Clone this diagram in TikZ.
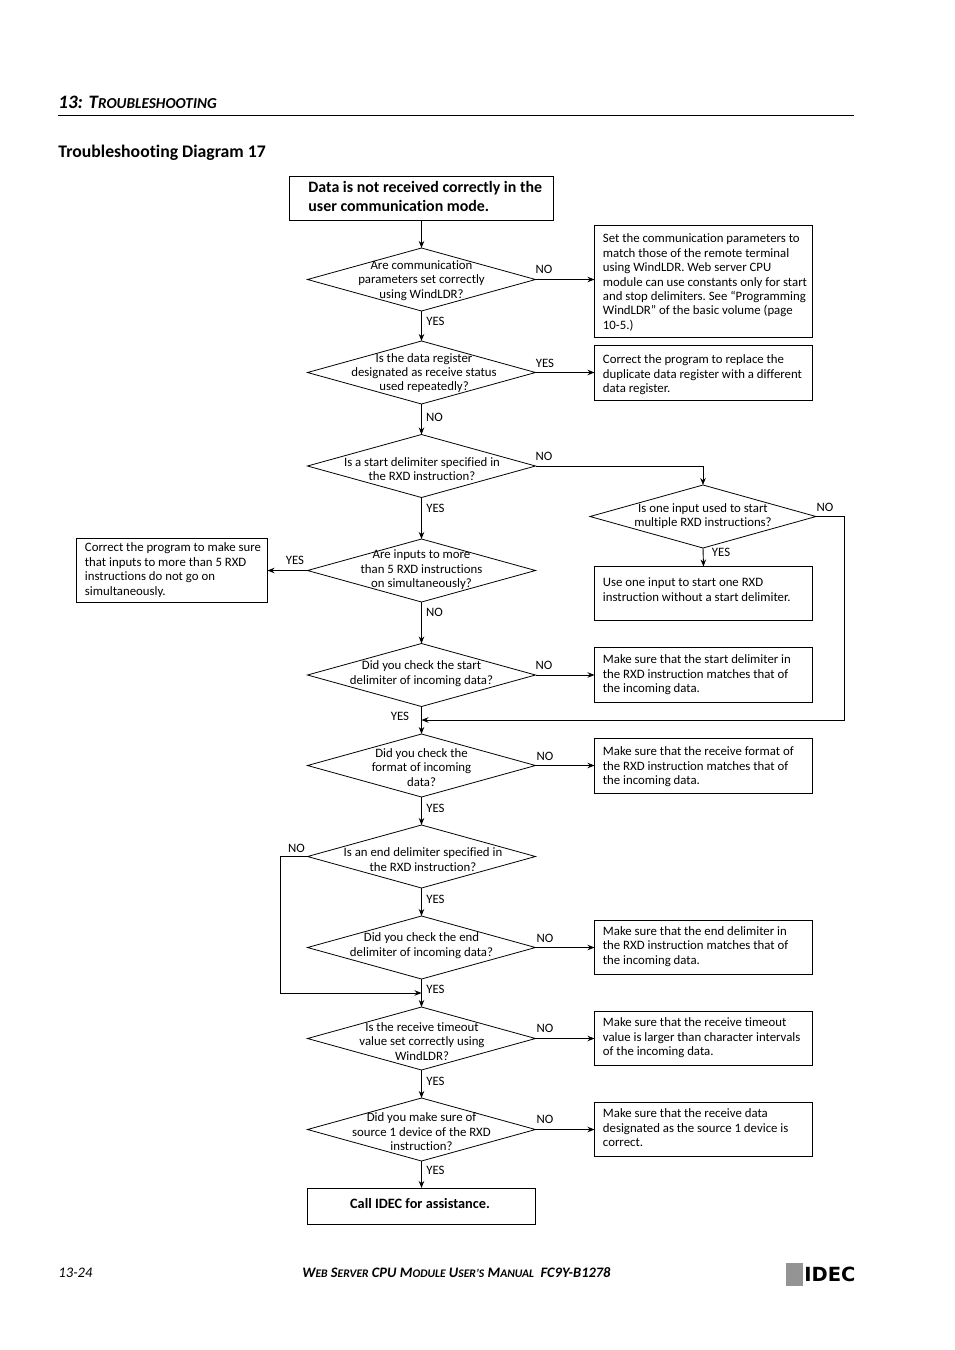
\documentclass[tikz,border=0pt]{standalone}
\usepackage{fontspec}
\setmainfont[Ligatures=NoCommon]{Carlito}
\newfontfamily\logofont{DejaVu Sans}
\usetikzlibrary{shapes.geometric,arrows.meta,calc}
\newcommand{\dia}[6]{% name, cx, cy, dx, dy, text
  \node[diabox] (#1) at (#2,#3) {};
  \node[diatext] (#1t) at (#2+#4,#3+#5) {#6};}
\newcommand{\rb}[7]{% name,x1,y1,x2,y2,text top offset,text
  \node[boxnode,minimum width=#4pt-#2pt,minimum height=#5pt-#3pt] (#1) at ({(#2+#4)/2},{(#3+#5)/2}) {};
  \node[boxtext] (#1t) at ($(#1.north west)+(8,#6)$) {#7};}
\begin{document}
\begin{tikzpicture}[x=1pt,y=-1pt,
  line width=0.9pt,
  diabox/.style={diamond,draw=black,inner sep=0pt,outer sep=0pt,minimum width=228pt,minimum height=63pt,line width=0.8pt},
  diatext/.style={align=center,inner sep=0pt,font=\fontsize{12.8}{14.4}\selectfont},
  boxnode/.style={rectangle,draw=black,inner sep=0pt,outer sep=0pt,line width=0.9pt},
  boxtext/.style={anchor=north west,align=left,inner sep=0pt,font=\fontsize{12.8}{14.4}\selectfont},
  lab/.style={inner sep=0pt,yshift=-0.7pt,font=\fontsize{12.8}{14}\selectfont},
  arr/.style={-{Stealth[length=7pt,width=5.5pt]},line width=0.9pt}]
\useasboundingbox (0,0) rectangle (954,1350);
% header
\node[anchor=base west,inner sep=0pt,font=\fontsize{19}{21}\selectfont\bfseries\itshape] (hd) at (58,108) {13: T{\fontsize{15.2}{17}\selectfont ROUBLESHOOTING}};
\coordinate (r1) at (58,115.5); \coordinate (r2) at (854,115.5);
\draw[line width=0.9pt] (r1) -- (r2);
\node[anchor=base west,inner sep=0pt,font=\fontsize{17.7}{20}\selectfont\bfseries] (ttl) at (58,157) {Troubleshooting Diagram 17};
% start box
\node[boxnode,minimum width=264pt,minimum height=44.5pt] (start) at (421.5,198.25) {};
\node[anchor=north west,align=left,inner sep=0pt,font=\fontsize{15.9}{19}\selectfont\bfseries] (startt) at (308,181) {Data is not received correctly in the\\user communication mode.};
% diamonds
\dia{d1}{421.5}{279.5}{0}{1}{Are communication\\parameters set correctly\\using WindLDR?}
\dia{d2}{421.5}{372.5}{2.5}{0.5}{Is the data register\\designated as receive status\\used repeatedly?}
\dia{d3}{421.5}{466}{0.5}{3.2}{Is a start delimiter specified in\\the RXD instruction?}
\dia{d4}{421.5}{570.5}{0}{-0.5}{Are inputs to more\\than 5 RXD instructions\\on simultaneously?}
\dia{d5}{421.5}{675}{0}{-1.2}{Did you check the start\\delimiter of incoming data?}
\dia{d6}{421.5}{765.5}{0}{2}{Did you check the\\format of incoming\\data?}
\dia{d7}{421.5}{856.5}{1.5}{3.2}{Is an end delimiter specified in\\the RXD instruction?}
\dia{d8}{421.5}{947.5}{0}{-2}{Did you check the end\\delimiter of incoming data?}
\dia{d9}{421.5}{1038.5}{0.5}{3}{Is the receive timeout\\value set correctly using\\WindLDR?}
\dia{d10}{421.5}{1129.5}{0}{2.2}{Did you make sure of\\source 1 device of the RXD\\instruction?}
\node[diabox,minimum width=226pt] (d11) at (703,516.5) {};
\node[diatext] (d11t) at (703,516) {Is one input used to start\\multiple RXD instructions?};
% boxes
\rb{b1}{594.5}{225.5}{812.5}{337.5}{8}{Set the communication parameters to\\match those of the remote terminal\\using WindLDR. Web server CPU\\module can use constants only for start\\and stop delimiters.\ See “Programming\\WindLDR” of the basic volume (page\\10-5.)}
\rb{b2}{594.5}{345.5}{812.5}{400.5}{9}{Correct the program to replace the\\duplicate data register with a different\\data register.}
\rb{b3}{594.5}{566.5}{812.5}{620.5}{11}{Use one input to start one RXD\\instruction without a start delimiter.}
\rb{b4}{76.5}{538.5}{267.5}{602.5}{4}{Correct the program to make sure\\that inputs to more than 5 RXD\\instructions do not go on\\simultaneously.}
\rb{b5}{594.5}{647.5}{812.5}{702.5}{7}{Make sure that the start delimiter in\\the RXD instruction matches that of\\the incoming data.}
\rb{b6}{594.5}{738.5}{812.5}{793.5}{8}{Make sure that the receive format of\\the RXD instruction matches that of\\the incoming data.}
\rb{b8}{594.5}{920.5}{812.5}{974.5}{5.5}{Make sure that the end delimiter in\\the RXD instruction matches that of\\the incoming data.}
\rb{b9}{594.5}{1011.5}{812.5}{1065.5}{6}{Make sure that the receive timeout\\value is larger than character intervals\\of the incoming data.}
\rb{b10}{594.5}{1102.5}{812.5}{1156.5}{6}{Make sure that the receive data\\designated as the source 1 device is\\correct.}
\node[boxnode,minimum width=228pt,minimum height=36pt] (end) at (421.5,1206) {};
\node[inner sep=0pt,font=\fontsize{14.3}{16}\selectfont\bfseries] (endt) at (420,1203.5) {Call IDEC for assistance.};
% connectors
\draw[arr] (start.south) -- (d1.north);
\draw[arr] (d1.south) -- (d2.north);
\draw[arr] (d2.south) -- (d3.north);
\draw[arr] (d3.south) -- (d4.north);
\draw[arr] (d4.south) -- (d5.north);
\draw[arr] (d5.south) -- (d6.north);
\draw[arr] (d6.south) -- (d7.north);
\draw[arr] (d7.south) -- (d8.north);
\draw[arr] (d8.south) -- (d9.north);
\draw[arr] (d9.south) -- (d10.north);
\draw[arr] (d10.south) -- (end.north);
\draw[arr] (d1.east) -- (d1.east -| b1.west);
\draw[arr] (d2.east) -- (d2.east -| b2.west);
\draw[arr] (d5.east) -- (d5.east -| b5.west);
\draw[arr] (d6.east) -- (d6.east -| b6.west);
\draw[arr] (d8.east) -- (d8.east -| b8.west);
\draw[arr] (d9.east) -- (d9.east -| b9.west);
\draw[arr] (d10.east) -- (d10.east -| b10.west);
\draw[arr] (d4.west) -- (d4.west -| b4.east);
\draw[arr] (d3.east) -| (d11.north);
\draw[arr] (d11.south) -- (b3.north);
\coordinate (j1) at (844.5,516.5);
\coordinate (j2) at (844.5,720);
\coordinate (j3) at (421.5,720);
\draw[arr] (d11.east) -- (j1) -- (j2) -- (j3);
\coordinate (k1) at (280.5,856.5);
\coordinate (k2) at (280.5,993);
\coordinate (k3) at (421.5,993);
\draw[arr] (d7.west) -- (k1) -- (k2) -- (k3);
% labels
\node[lab] (l1) at (544,268.7) {NO};
\node[lab] (l2) at (435.5,321) {YES};
\node[lab] (l3) at (545,362.7) {YES};
\node[lab] (l4) at (434.5,416.7) {NO};
\node[lab] (l5) at (544,455.7) {NO};
\node[lab] (l6) at (435.5,508) {YES};
\node[lab] (l7) at (825,506.7) {NO};
\node[lab] (l8) at (721,552) {YES};
\node[lab] (l9) at (295,560) {YES};
\node[lab] (l10) at (434.5,611.7) {NO};
\node[lab] (l11) at (544,664.7) {NO};
\node[lab] (l12) at (400,716) {YES};
\node[lab] (l13) at (545,755.7) {NO};
\node[lab] (l14) at (435.5,808) {YES};
\node[lab] (l15) at (296.5,848) {NO};
\node[lab] (l16) at (435.5,899) {YES};
\node[lab] (l17) at (545,937.7) {NO};
\node[lab] (l18) at (435.5,989) {YES};
\node[lab] (l19) at (545,1027.7) {NO};
\node[lab] (l20) at (435.5,1081) {YES};
\node[lab] (l21) at (545,1118.7) {NO};
\node[lab] (l22) at (435.5,1170) {YES};
% footer
\node[anchor=base west,inner sep=0pt,font=\fontsize{14.6}{16}\selectfont\itshape] (pg) at (58,1277) {13-24};
\node[anchor=base west,inner sep=0pt,font=\fontsize{14.45}{16}\selectfont\bfseries\itshape] (ft) at (302,1277) {W{\fontsize{11.6}{13}\selectfont EB} S{\fontsize{11.6}{13}\selectfont ERVER} CPU M{\fontsize{11.6}{13}\selectfont ODULE} U{\fontsize{11.6}{13}\selectfont SER’S} M{\fontsize{11.6}{13}\selectfont ANUAL}\ \ FC9Y-B1278};
% logo
\fill[black!42] (786,1263) rectangle (803,1286);
\node[anchor=base west,inner sep=0pt,font=\logofont\fontsize{19.5}{24}\selectfont\bfseries] (logo) at (804,1281) {IDEC};
\end{tikzpicture}
\end{document}
